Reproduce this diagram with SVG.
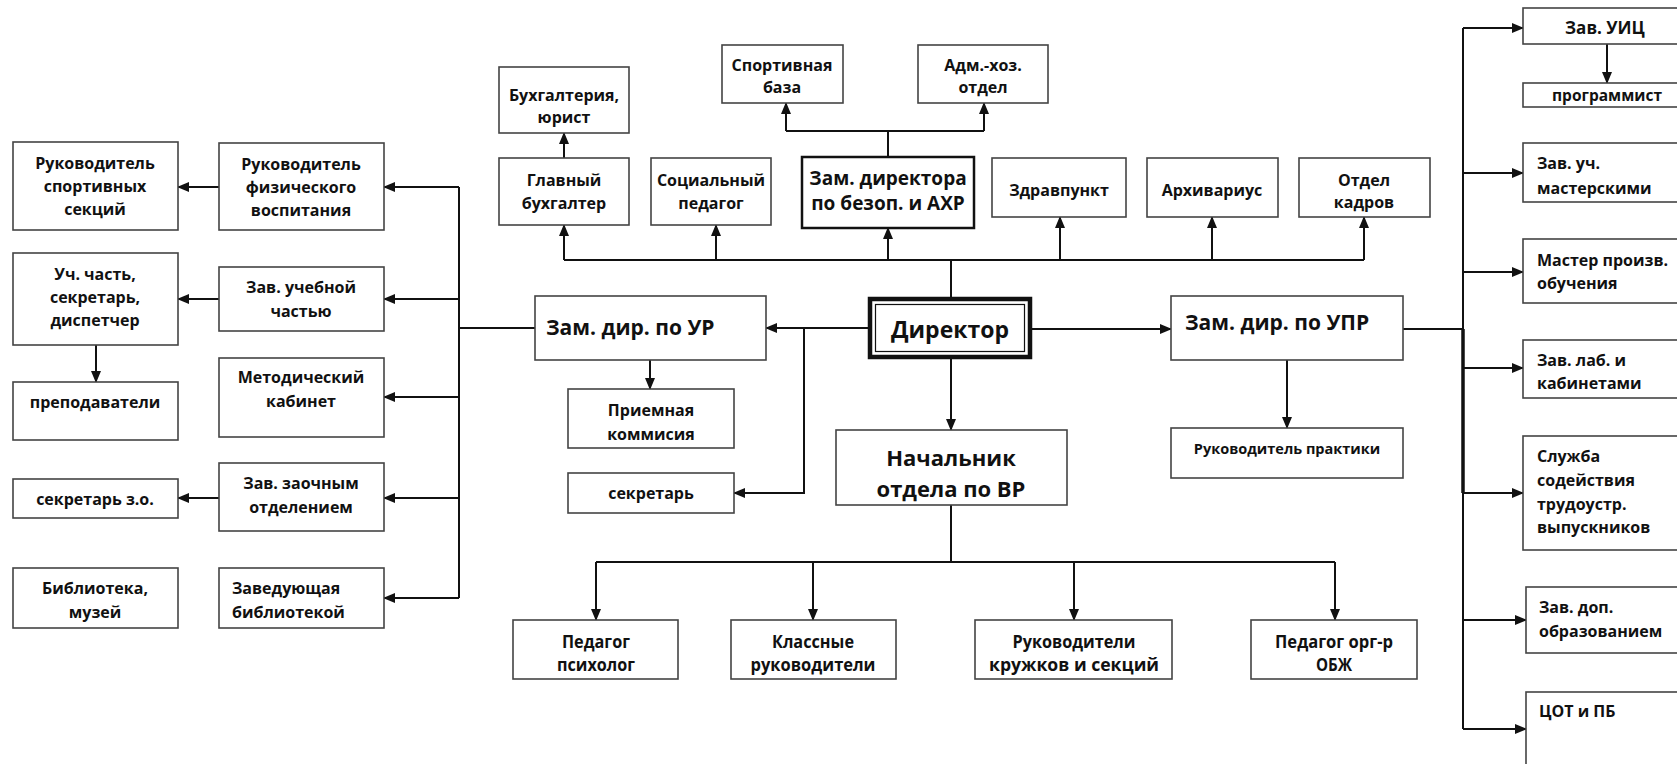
<svg xmlns="http://www.w3.org/2000/svg" width="1677" height="764" viewBox="0 0 1677 764">
<style>
.b{fill:#fff;stroke:#444;stroke-width:1.6}
.t{font-family:"Open Sans","Noto Sans","DejaVu Sans",sans-serif;font-weight:bold;font-size:16px;fill:#111;text-anchor:middle;dominant-baseline:central}
.l{text-anchor:start}
.s14{font-size:14.5px}
.s17{font-size:17px}
.s19{font-size:19px}
.s21{font-size:21px}
.s22{font-size:22px}
.c{stroke:#111;stroke-width:2;fill:none}
.a{marker-end:url(#ar)}
</style>
<defs>
<marker id="ar" markerWidth="12" markerHeight="10" refX="11" refY="5" orient="auto" markerUnits="userSpaceOnUse">
<path d="M0,0 L12,5 L0,10 Z" fill="#111"/>
</marker>
</defs>
<rect width="1677" height="764" fill="#fff"/>

<g id="connectors">
<path class="c" d="M459,187 V598"/>
<path class="c a" d="M459,187 H384"/>
<path class="c a" d="M459,299 H384"/>
<path class="c a" d="M459,397 H384"/>
<path class="c a" d="M459,498 H384"/>
<path class="c a" d="M459,598 H384"/>
<path class="c" d="M459,328 H535"/>
<path class="c a" d="M219,187 H178"/>
<path class="c a" d="M219,299 H178"/>
<path class="c a" d="M96,345 V382"/>
<path class="c a" d="M219,498 H178"/>
<path class="c a" d="M564,158 V133"/>
<path class="c" d="M564,260 H1364"/>
<path class="c" d="M951,299 V260"/>
<path class="c a" d="M564,260 V225"/>
<path class="c a" d="M716,260 V225"/>
<path class="c a" d="M888,260 V228"/>
<path class="c a" d="M1060,260 V217"/>
<path class="c a" d="M1212,260 V217"/>
<path class="c a" d="M1364,260 V217"/>
<path class="c" d="M888,157 V131 M786,131 H984"/>
<path class="c a" d="M786,131 V103"/>
<path class="c a" d="M984,131 V103"/>
<path class="c a" d="M870,328 H766"/>
<path class="c a" d="M804,328 V493 H734"/>
<path class="c a" d="M650,360 V389"/>
<path class="c a" d="M951,357 V430"/>
<path class="c a" d="M1030,329 H1171"/>
<path class="c a" d="M1287,360 V428"/>
<path class="c" d="M1403,329 H1463"/>
<path class="c" d="M951,505 V562 M596,562 H1335"/>
<path class="c a" d="M596,562 V620"/>
<path class="c a" d="M813,562 V620"/>
<path class="c a" d="M1074,562 V620"/>
<path class="c a" d="M1335,562 V620"/>
<path class="c" d="M1463,28 V729"/>
<path class="c" style="stroke-width:3.5" d="M1463,329 V493"/>
<path class="c a" d="M1463,28 H1523"/>
<path class="c a" d="M1463,173 H1523"/>
<path class="c a" d="M1463,272 H1523"/>
<path class="c a" d="M1463,368 H1523"/>
<path class="c a" d="M1463,493 H1523"/>
<path class="c a" d="M1463,620 H1526"/>
<path class="c a" d="M1463,729 H1526"/>
<path class="c a" d="M1607,44 V83"/>
</g>

<g id="n_sport"><rect class="b" x="13" y="142" width="165" height="88"/>
<text class="t" x="95" y="163">Руководитель</text><text class="t" x="95" y="186">спортивных</text><text class="t" x="95" y="209">секций</text></g>
<g id="n_phys"><rect class="b" x="219" y="143" width="165" height="87"/>
<text class="t" x="301" y="164">Руководитель</text><text class="t" x="301" y="187">физического</text><text class="t" x="301" y="210">воспитания</text></g>
<g id="n_uch"><rect class="b" x="13" y="253" width="165" height="92"/>
<text class="t" x="95" y="274">Уч. часть,</text><text class="t" x="95" y="297">секретарь,</text><text class="t" x="95" y="320">диспетчер</text></g>
<g id="n_zavuch"><rect class="b" x="219" y="267" width="165" height="64"/>
<text class="t" x="301" y="287">Зав. учебной</text><text class="t" x="301" y="311">частью</text></g>
<g id="n_prep"><rect class="b" x="13" y="382" width="165" height="58"/>
<text class="t" x="95" y="402">преподаватели</text></g>
<g id="n_metod"><rect class="b" x="219" y="358" width="165" height="79"/>
<text class="t" x="301" y="377">Методический</text><text class="t" x="301" y="401">кабинет</text></g>
<g id="n_seczo"><rect class="b" x="13" y="479" width="165" height="39"/>
<text class="t" x="95" y="499">секретарь з.о.</text></g>
<g id="n_zavzo"><rect class="b" x="219" y="463" width="165" height="68"/>
<text class="t" x="301" y="483">Зав. заочным</text><text class="t" x="301" y="507">отделением</text></g>
<g id="n_bibl"><rect class="b" x="13" y="568" width="165" height="60"/>
<text class="t" x="95" y="588">Библиотека,</text><text class="t" x="95" y="612">музей</text></g>
<g id="n_zavbibl"><rect class="b" x="219" y="568" width="165" height="60"/>
<text class="t l" x="232" y="588">Заведующая</text><text class="t l" x="232" y="612">библиотекой</text></g>

<g id="n_buhur"><rect class="b" x="499" y="67" width="130" height="66"/>
<text class="t" x="564" y="95">Бухгалтерия,</text><text class="t" x="564" y="117">юрист</text></g>
<g id="n_glbuh"><rect class="b" x="499" y="158" width="130" height="67"/>
<text class="t" x="564" y="180">Главный</text><text class="t" x="564" y="203">бухгалтер</text></g>
<g id="n_socped"><rect class="b" x="651" y="158" width="120" height="67"/>
<text class="t" x="711" y="180">Социальный</text><text class="t" x="711" y="203">педагог</text></g>
<g id="n_zamahr"><rect class="b" style="stroke:#111;stroke-width:2.5" x="802" y="157" width="172" height="71"/>
<text class="t s19" x="888" y="178">Зам. директора</text><text class="t s19" x="888" y="203">по  безоп. и АХР</text></g>
<g id="n_sportbase"><rect class="b" x="722" y="45" width="121" height="58"/>
<text class="t" x="782" y="65">Спортивная</text><text class="t" x="782" y="87">база</text></g>
<g id="n_admhoz"><rect class="b" x="918" y="45" width="130" height="58"/>
<text class="t" x="983" y="65">Адм.-хоз.</text><text class="t" x="983" y="87">отдел</text></g>
<g id="n_zdrav"><rect class="b" x="992" y="158" width="134" height="59"/>
<text class="t" x="1059" y="190">Здравпункт</text></g>
<g id="n_arhiv"><rect class="b" x="1147" y="158" width="131" height="59"/>
<text class="t" x="1212" y="190">Архивариус</text></g>
<g id="n_kadry"><rect class="b" x="1299" y="158" width="131" height="59"/>
<text class="t" x="1364" y="180">Отдел</text><text class="t" x="1364" y="202">кадров</text></g>

<g id="n_zamur"><rect class="b" x="535" y="296" width="231" height="64"/>
<text class="t s21 l" x="546" y="327">Зам. дир. по УР</text></g>
<g id="n_dir"><rect x="870" y="299" width="160" height="58" fill="#fff" stroke="#111" stroke-width="4.5"/>
<rect x="875.5" y="304.5" width="149" height="47" fill="none" stroke="#111" stroke-width="1.2"/>
<text class="t" style="font-size:23px" x="950" y="329">Директор</text></g>
<g id="n_zamupr"><rect class="b" x="1171" y="296" width="232" height="64"/>
<text class="t s21 l" x="1185" y="322">Зам. дир. по УПР</text></g>
<g id="n_priem"><rect class="b" x="568" y="389" width="166" height="59"/>
<text class="t" x="651" y="410">Приемная</text><text class="t" x="651" y="434">коммисия</text></g>
<g id="n_secr"><rect class="b" x="568" y="473" width="166" height="40"/>
<text class="t" x="651" y="493">секретарь</text></g>
<g id="n_nachvr"><rect class="b" x="836" y="430" width="231" height="75"/>
<text class="t s22" x="951" y="457">Начальник</text><text class="t s22" x="951" y="488">отдела по ВР</text></g>
<g id="n_rukprakt"><rect class="b" x="1171" y="428" width="232" height="50"/>
<text class="t s14" x="1287" y="448">Руководитель практики</text></g>

<g id="n_psih"><rect class="b" x="513" y="620" width="165" height="59"/>
<text class="t s17" x="596" y="641" textLength="68" lengthAdjust="spacingAndGlyphs">Педагог</text><text class="t s17" x="596" y="664" textLength="78" lengthAdjust="spacingAndGlyphs">психолог</text></g>
<g id="n_klass"><rect class="b" x="731" y="620" width="165" height="59"/>
<text class="t s17" x="813" y="641" textLength="82" lengthAdjust="spacingAndGlyphs">Классные</text><text class="t s17" x="813" y="664" textLength="125" lengthAdjust="spacingAndGlyphs">руководители</text></g>
<g id="n_kruzh"><rect class="b" x="975" y="620" width="197" height="59"/>
<text class="t s17" x="1074" y="641" textLength="123" lengthAdjust="spacingAndGlyphs">Руководители</text><text class="t s17" x="1074" y="664" textLength="170" lengthAdjust="spacingAndGlyphs">кружков и секций</text></g>
<g id="n_obzh"><rect class="b" x="1251" y="620" width="166" height="59"/>
<text class="t s17" x="1334" y="641" textLength="118" lengthAdjust="spacingAndGlyphs">Педагог орг-р</text><text class="t s17" x="1334" y="664" textLength="36" lengthAdjust="spacingAndGlyphs">ОБЖ</text></g>

<g id="n_uic"><rect class="b" x="1523" y="8" width="170" height="36"/>
<text class="t s17" x="1605" y="27">Зав. УИЦ</text></g>
<g id="n_prog"><rect class="b" x="1523" y="83" width="170" height="24"/>
<text class="t" style="font-size:15.5px" x="1607" y="95">программист</text></g>
<g id="n_mast"><rect class="b" x="1523" y="143" width="170" height="59"/>
<text class="t l" x="1537" y="163">Зав. уч.</text><text class="t l" x="1537" y="188">мастерскими</text></g>
<g id="n_master"><rect class="b" x="1523" y="239" width="170" height="64"/>
<text class="t l" x="1537" y="260">Мастер произв.</text><text class="t l" x="1537" y="283">обучения</text></g>
<g id="n_lab"><rect class="b" x="1523" y="340" width="170" height="58"/>
<text class="t l" x="1537" y="360">Зав. лаб. и</text><text class="t l" x="1537" y="383">кабинетами</text></g>
<g id="n_sluzh"><rect class="b" x="1523" y="436" width="170" height="114"/>
<text class="t l" x="1537" y="456">Служба</text><text class="t l" x="1537" y="480">содействия</text><text class="t l" x="1537" y="504">трудоустр.</text><text class="t l" x="1537" y="527">выпускников</text></g>
<g id="n_dop"><rect class="b" x="1526" y="587" width="170" height="66"/>
<text class="t l" x="1539" y="607">Зав. доп.</text><text class="t l" x="1539" y="631">образованием</text></g>
<g id="n_cot"><rect class="b" x="1526" y="692" width="170" height="90"/>
<text class="t l" x="1539" y="711">ЦОТ и ПБ</text></g>
</svg>
